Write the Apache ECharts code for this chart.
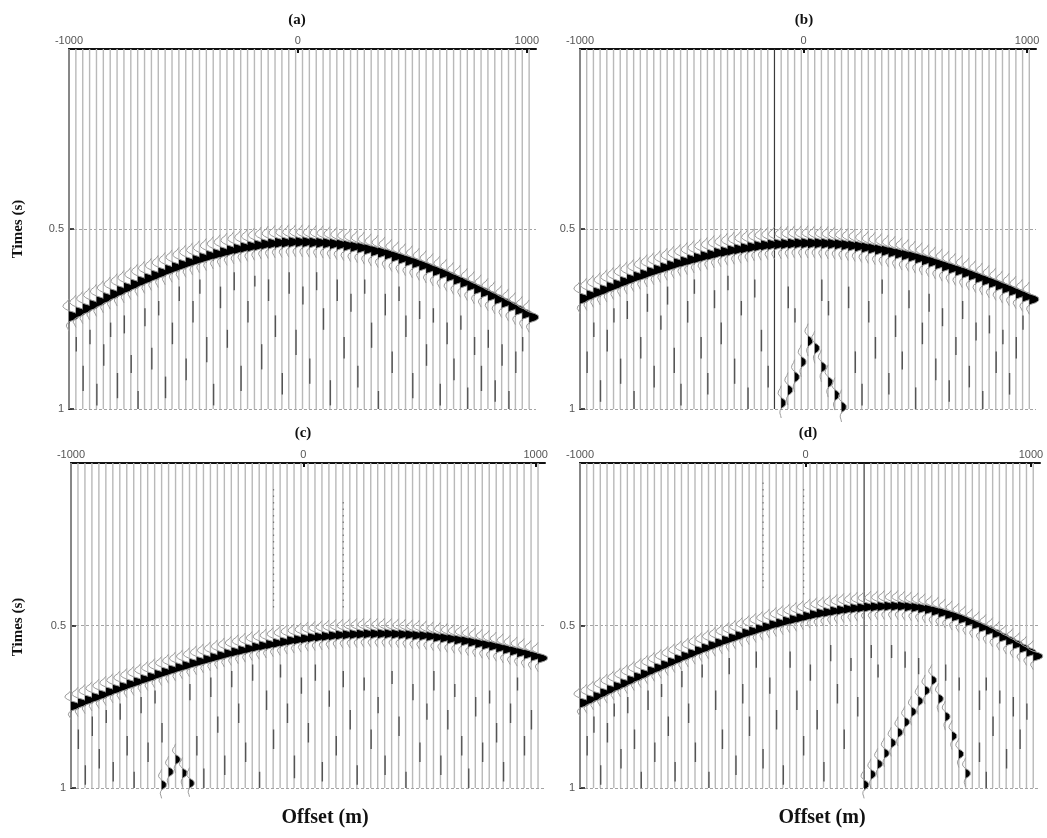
<!DOCTYPE html>
<html>
<head>
<meta charset="utf-8">
<script src="https://cdn.jsdelivr.net/npm/echarts@6/dist/echarts.min.js"></script>
<style>
  html, body { margin: 0; padding: 0; background: #fff; }
  #chart { width: 1047px; height: 838px; }
</style>
</head>
<body>
<div id="chart"></div>
<script>
// Receiver offsets (m), one wiggle trace each
const offsets = [-1000,-970,-940,-910,-880,-850,-820,-790,-760,-730,-700,-670,-640,-610,-580,-550,-520,-490,-460,-430,-400,-370,-340,-310,-280,-250,-220,-190,-160,-130,-100,-70,-40,-10,
  20,50,80,110,140,170,200,230,260,290,320,350,380,410,440,470,500,530,560,590,620,650,680,710,740,770,800,830,860,890,920,950,980,1010];

// Reflection arrival time (s) on each trace, panels (a)-(d)
const eventA = [0.742,0.731,0.721,0.711,0.701,0.691,0.681,0.672,0.663,0.654,0.645,0.637,0.629,0.621,0.613,0.606,0.599,0.592,0.586,0.580,0.574,0.569,0.564,0.559,0.555,0.551,0.548,0.545,0.542,0.540,0.538,0.537,0.536,0.536,
  0.536,0.537,0.538,0.539,0.541,0.543,0.546,0.549,0.552,0.556,0.561,0.565,0.570,0.576,0.582,0.588,0.594,0.601,0.608,0.616,0.623,0.631,0.640,0.648,0.657,0.666,0.675,0.685,0.694,0.704,0.714,0.724,0.735,0.745];
const eventB = [0.693,0.684,0.676,0.669,0.661,0.654,0.646,0.639,0.632,0.626,0.619,0.613,0.607,0.601,0.595,0.590,0.585,0.580,0.575,0.571,0.566,0.563,0.559,0.556,0.553,0.550,0.547,0.545,0.543,0.542,0.541,0.540,0.539,0.539,
  0.539,0.539,0.540,0.541,0.542,0.544,0.546,0.548,0.551,0.554,0.557,0.560,0.564,0.568,0.572,0.576,0.581,0.586,0.591,0.597,0.603,0.609,0.615,0.621,0.628,0.635,0.642,0.649,0.656,0.664,0.671,0.679,0.687,0.695];
const eventC = [0.747,0.738,0.729,0.721,0.713,0.704,0.696,0.688,0.680,0.673,0.665,0.658,0.650,0.643,0.636,0.629,0.623,0.616,0.610,0.604,0.598,0.592,0.586,0.581,0.576,0.571,0.566,0.562,0.558,0.554,0.550,0.546,0.543,0.540,
  0.537,0.535,0.533,0.531,0.529,0.528,0.527,0.526,0.525,0.525,0.525,0.525,0.526,0.527,0.528,0.530,0.531,0.533,0.536,0.538,0.541,0.544,0.547,0.551,0.555,0.559,0.563,0.568,0.573,0.578,0.583,0.588,0.594,0.600];
const eventD = [0.738,0.728,0.718,0.707,0.697,0.687,0.678,0.668,0.658,0.649,0.639,0.630,0.621,0.612,0.603,0.594,0.586,0.577,0.569,0.561,0.553,0.545,0.538,0.531,0.523,0.517,0.510,0.504,0.497,0.492,0.486,0.481,0.476,0.471,
  0.466,0.462,0.459,0.455,0.452,0.449,0.447,0.445,0.443,0.442,0.441,0.440,0.440,0.440,0.442,0.444,0.447,0.450,0.455,0.460,0.466,0.472,0.479,0.487,0.496,0.505,0.514,0.524,0.535,0.546,0.557,0.569,0.581,0.594];

// Diffracted arrivals: [offset, time]
const diffB = [[-100,0.983],[-70,0.947],[-40,0.911],[-10,0.869],[20,0.811],[50,0.831],[80,0.883],[110,0.925],[140,0.961],[170,0.994]];
const diffC = [[-610,0.990],[-580,0.950],[-550,0.912],[-520,0.954],[-490,0.985]];
const diffD = [[260,0.990],[290,0.958],[320,0.926],[350,0.893],[380,0.861],[410,0.829],[440,0.797],[470,0.765],[500,0.732],[530,0.700],[560,0.668],
  [590,0.725],[620,0.780],[650,0.840],[680,0.895],[710,0.955]];

// Noise bursts on single traces: [offset, start time, end time]
const noiseA = [[-970,0.80,0.84],[-940,0.88,0.95],[-910,0.78,0.82],[-880,0.93,0.99],[-850,0.82,0.88],[-820,0.76,0.80],[-790,0.90,0.97],[-760,0.74,0.79],[-730,0.85,0.90],[-700,0.95,1.0],[-670,0.72,0.77],[-640,0.83,0.89],[-610,0.70,0.74],[-580,0.91,0.97],[-550,0.76,0.82],[-520,0.66,0.70],[-490,0.86,0.92],[-460,0.70,0.76],[-430,0.64,0.68],[-400,0.80,0.87],[-370,0.93,0.99],[-340,0.66,0.72],[-310,0.78,0.83],[-280,0.62,0.67],[-250,0.88,0.95],[-220,0.70,0.76],[-190,0.63,0.66],[-160,0.82,0.89],[-130,0.64,0.70],[-100,0.74,0.80],[-70,0.90,0.96],[-40,0.62,0.68],[-10,0.78,0.85],[20,0.66,0.71],[50,0.86,0.93],[80,0.62,0.67],[110,0.72,0.78],[140,0.92,0.99],[170,0.64,0.70],[200,0.80,0.86],[230,0.68,0.73],[260,0.88,0.94],[290,0.64,0.68],[320,0.76,0.83],[350,0.95,1.0],[380,0.68,0.74],[410,0.84,0.90],[440,0.66,0.70],[470,0.74,0.80],[500,0.90,0.97],[530,0.70,0.75],[560,0.82,0.88],[590,0.72,0.76],[620,0.93,0.99],[650,0.76,0.82],[680,0.86,0.92],[710,0.74,0.78],[740,0.94,1.0],[770,0.80,0.85],[800,0.88,0.95],[830,0.78,0.83],[860,0.92,0.98],[890,0.82,0.88],[920,0.95,1.0],[950,0.84,0.90],[980,0.80,0.84]];
const noiseB = [[-970,0.84,0.90],[-940,0.76,0.80],[-910,0.92,0.98],[-880,0.78,0.84],[-850,0.72,0.76],[-820,0.86,0.93],[-790,0.70,0.75],[-760,0.95,1.0],[-730,0.80,0.86],[-700,0.68,0.73],[-670,0.88,0.94],[-640,0.74,0.78],[-610,0.66,0.71],[-580,0.83,0.90],[-550,0.93,0.99],[-520,0.70,0.76],[-490,0.64,0.68],[-460,0.80,0.86],[-430,0.90,0.96],[-400,0.67,0.72],[-370,0.76,0.82],[-340,0.63,0.67],[-310,0.86,0.93],[-280,0.70,0.74],[-250,0.94,1.0],[-220,0.64,0.69],[-190,0.78,0.84],[-160,0.88,0.94],[-70,0.66,0.72],[-40,0.72,0.76],[80,0.64,0.70],[110,0.70,0.74],[200,0.66,0.72],[230,0.84,0.90],[260,0.93,0.99],[290,0.70,0.76],[320,0.80,0.86],[350,0.64,0.68],[380,0.90,0.96],[410,0.74,0.80],[440,0.84,0.89],[470,0.67,0.72],[500,0.94,1.0],[530,0.76,0.82],[560,0.68,0.73],[590,0.86,0.92],[620,0.72,0.77],[650,0.92,0.98],[680,0.80,0.85],[710,0.70,0.75],[740,0.88,0.94],[770,0.76,0.81],[800,0.95,1.0],[830,0.74,0.79],[860,0.84,0.90],[890,0.78,0.82],[920,0.90,0.96],[950,0.80,0.86],[980,0.74,0.78]];
const noiseC = [[-970,0.82,0.88],[-940,0.93,0.99],[-910,0.78,0.84],[-880,0.88,0.94],[-850,0.76,0.80],[-820,0.92,0.98],[-790,0.74,0.79],[-760,0.84,0.90],[-730,0.95,1.0],[-700,0.72,0.77],[-670,0.86,0.92],[-640,0.70,0.74],[-610,0.80,0.86],[-490,0.68,0.73],[-460,0.84,0.90],[-430,0.94,1.0],[-400,0.66,0.72],[-370,0.78,0.83],[-340,0.90,0.96],[-310,0.64,0.69],[-280,0.74,0.80],[-250,0.86,0.92],[-220,0.62,0.67],[-190,0.95,1.0],[-160,0.70,0.76],[-130,0.82,0.88],[-100,0.62,0.66],[-70,0.74,0.80],[-40,0.90,0.97],[-10,0.66,0.71],[20,0.80,0.86],[50,0.62,0.67],[80,0.92,0.98],[110,0.70,0.75],[140,0.84,0.90],[170,0.64,0.69],[200,0.76,0.82],[230,0.93,0.99],[260,0.66,0.70],[290,0.82,0.88],[320,0.72,0.77],[350,0.90,0.96],[380,0.64,0.68],[410,0.78,0.84],[440,0.95,1.0],[470,0.68,0.73],[500,0.86,0.92],[530,0.74,0.79],[560,0.64,0.70],[590,0.90,0.96],[620,0.76,0.82],[650,0.68,0.72],[680,0.84,0.90],[710,0.94,1.0],[740,0.72,0.78],[770,0.86,0.92],[800,0.70,0.74],[830,0.80,0.86],[860,0.92,0.98],[890,0.74,0.80],[920,0.66,0.70],[950,0.84,0.90],[980,0.76,0.82]];
const noiseD = [[-970,0.84,0.90],[-940,0.78,0.83],[-910,0.93,0.99],[-880,0.80,0.86],[-850,0.74,0.78],[-820,0.88,0.94],[-790,0.72,0.77],[-760,0.82,0.88],[-730,0.95,1.0],[-700,0.70,0.76],[-670,0.86,0.92],[-640,0.68,0.72],[-610,0.78,0.84],[-580,0.92,0.98],[-550,0.64,0.69],[-520,0.74,0.80],[-490,0.86,0.92],[-460,0.62,0.66],[-430,0.95,1.0],[-400,0.70,0.76],[-370,0.82,0.88],[-340,0.60,0.65],[-310,0.90,0.96],[-280,0.68,0.74],[-250,0.78,0.84],[-220,0.58,0.63],[-190,0.88,0.94],[-160,0.66,0.71],[-130,0.76,0.82],[-100,0.93,0.99],[-70,0.58,0.63],[-40,0.70,0.76],[-10,0.84,0.90],[20,0.62,0.67],[50,0.76,0.82],[80,0.92,0.98],[110,0.56,0.61],[140,0.68,0.74],[170,0.82,0.88],[200,0.60,0.64],[230,0.72,0.78],[290,0.56,0.60],[320,0.62,0.66],[380,0.56,0.60],[440,0.58,0.63],[500,0.60,0.65],[620,0.62,0.67],[680,0.66,0.70],[770,0.70,0.76],[770,0.86,0.92],[800,0.66,0.70],[800,0.95,1.0],[830,0.78,0.84],[860,0.70,0.74],[890,0.88,0.94],[920,0.72,0.78],[950,0.82,0.88],[980,0.74,0.79]];

// Faint dotted streaks above the reflection: [offset, start time, end time]
const streakC = [[-130,0.08,0.46],[170,0.12,0.46]];
const streakD = [[-190,0.06,0.40],[-10,0.08,0.42]];

// Traces plotted with a darker line
const darkTraceB = -130;
const darkTraceD = 260;

// Axis ticks
const offsetTicks = [-1000, 0, 1000];
const timeTicks = [0.5, 1];

// Source wavelet: time relative to the peak (s) and normalised amplitude
const waveT = [-0.048,-0.040,-0.033,-0.026,-0.020,-0.015,-0.010,-0.005,0,0.005,0.010,0.015,0.021,0.028,0.035,0.042];
const waveA = [0,-0.20,-0.55,-0.65,-0.40,-0.02,0.60,0.95,1.0,0.95,0.65,0.08,-0.22,-0.28,-0.12,0];

const panelTitles = ['(a)', '(b)', '(c)', '(d)'];

const panels = [
  { events: eventA, diff: [],    noise: noiseA, streak: [],      dark: null,       grid: { left: 69,  top: 49,  width: 467, height: 360 } },
  { events: eventB, diff: diffB, noise: noiseB, streak: [],      dark: darkTraceB, grid: { left: 580, top: 49,  width: 456, height: 360 } },
  { events: eventC, diff: diffC, noise: noiseC, streak: streakC, dark: null,       grid: { left: 71,  top: 463, width: 474, height: 325 } },
  { events: eventD, diff: diffD, noise: noiseD, streak: streakD, dark: darkTraceD, grid: { left: 580, top: 463, width: 460, height: 325 } }
];

const AMP = 9.5; // px deflection for unit amplitude

function renderTrace(params, api) {
  const o = api.value(0);
  const a = api.coord([o, 0]);
  const b = api.coord([o, 1]);
  const dark = api.value(2) === 1;
  return {
    type: 'line',
    shape: { x1: a[0], y1: a[1], x2: b[0], y2: b[1] },
    style: { stroke: dark ? '#3a3a3a' : '#b9b9b9', lineWidth: dark ? 1.2 : 1.4 }
  };
}

function segmentRenderer(color, width, dash) {
  return function (params, api) {
    const o = api.value(0);
    const a = api.coord([o, api.value(1)]);
    const b = api.coord([o, api.value(2)]);
    return {
      type: 'line',
      shape: { x1: a[0] + 0.4, y1: a[1], x2: b[0] + 0.4, y2: b[1] },
      style: { stroke: color, lineWidth: width, lineDash: dash }
    };
  };
}

function renderWiggle(params, api) {
  const o = api.value(0);
  const t0 = api.value(1);
  const gain = api.value(2);
  const pts = [];
  const fill = [];
  for (let k = 0; k < waveT.length; k++) {
    const p = api.coord([o, t0 + waveT[k]]);
    const d = waveA[k] * gain * AMP;
    pts.push([p[0] + d, p[1]]);
    fill.push([p[0] + Math.max(d, 0), p[1]]);
  }
  return {
    type: 'group',
    children: [
      { type: 'polygon', shape: { points: fill }, style: { fill: '#000', stroke: null } },
      { type: 'polyline', shape: { points: pts }, style: { stroke: '#9d9d9d', lineWidth: 1, fill: null } }
    ]
  };
}

const axisFont = 'Liberation Sans';
const grids = [], xAxes = [], yAxes = [], series = [];
panels.forEach((p, i) => {
  grids.push(Object.assign({ containLabel: false, outerBoundsMode: 'none' }, p.grid));
  xAxes.push({
    type: 'value', gridIndex: i, position: 'top', min: -1000, max: 1040,
    axisLine: { show: true, onZero: false, lineStyle: { color: '#111', width: 2 } },
    axisTick: { show: true, inside: true, length: 4, customValues: [0, 1000], lineStyle: { color: '#111', width: 2 } },
    axisLabel: { show: true, customValues: offsetTicks, margin: 3, color: '#555', fontSize: 11, fontFamily: axisFont,
      formatter: v => String(v) },
    splitLine: { show: false }
  });
  yAxes.push({
    type: 'value', gridIndex: i, inverse: true, min: 0, max: 1, interval: 0.5,
    axisLine: { show: true, onZero: false, lineStyle: { color: '#111', width: 2 } },
    axisTick: { show: true, inside: true, length: 5, customValues: timeTicks, lineStyle: { color: '#111', width: 1.5 } },
    axisLabel: { show: true, customValues: timeTicks, margin: 5, color: '#555', fontSize: 11, fontFamily: axisFont,
      formatter: v => String(v) },
    splitLine: { show: true, lineStyle: { color: '#8c8c8c', width: 0.8, type: [3, 2] } }
  });
  series.push({
    type: 'custom', xAxisIndex: i, yAxisIndex: i, silent: true,
    encode: { x: 0, y: 1 },
    data: offsets.map(o => [o, 0, o === p.dark ? 1 : 0]),
    renderItem: renderTrace
  });
  series.push({
    type: 'custom', xAxisIndex: i, yAxisIndex: i, silent: true,
    encode: { x: 0, y: 1 },
    data: p.noise,
    renderItem: segmentRenderer('#555', 1.4, null)
  });
  if (p.streak.length) {
    series.push({
      type: 'custom', xAxisIndex: i, yAxisIndex: i, silent: true,
      encode: { x: 0, y: 1 },
      data: p.streak,
      renderItem: segmentRenderer('#777', 1.2, [1.5, 5])
    });
  }
  series.push({
    type: 'custom', xAxisIndex: i, yAxisIndex: i, silent: true,
    encode: { x: 0, y: 1 },
    data: p.events.map((t, k) => [offsets[k], t, 1]),
    renderItem: renderWiggle
  });
  if (p.diff.length) {
    series.push({
      type: 'custom', xAxisIndex: i, yAxisIndex: i, silent: true,
      encode: { x: 0, y: 1 },
      data: p.diff.map(d => [d[0], d[1], 0.5]),
      renderItem: renderWiggle
    });
  }
});

const font = s => 'bold ' + s + 'px "Liberation Serif", "DejaVu Serif", serif';
const label = (text, x, y, size, rot) => ({
  type: 'text', x: x, y: y, rotation: rot || 0,
  style: { text: text, font: font(size), fill: '#111', textAlign: 'center', textVerticalAlign: 'middle' }
});
const graphic = [
  label(panelTitles[0], 297, 20, 15),
  label(panelTitles[1], 804, 20, 15),
  label(panelTitles[2], 303, 433, 15),
  label(panelTitles[3], 808, 433, 15),
  label('Times (s)', 18, 229, 15, Math.PI / 2),
  label('Times (s)', 18, 627, 15, Math.PI / 2),
  label('Offset (m)', 325, 818, 20),
  label('Offset (m)', 822, 818, 20)
];

const chart = echarts.init(document.getElementById('chart'), null, { renderer: 'canvas' });
chart.setOption({
  backgroundColor: '#fff',
  animation: false,
  grid: grids,
  xAxis: xAxes,
  yAxis: yAxes,
  series: series,
  graphic: graphic
});
</script>
</body>
</html>
